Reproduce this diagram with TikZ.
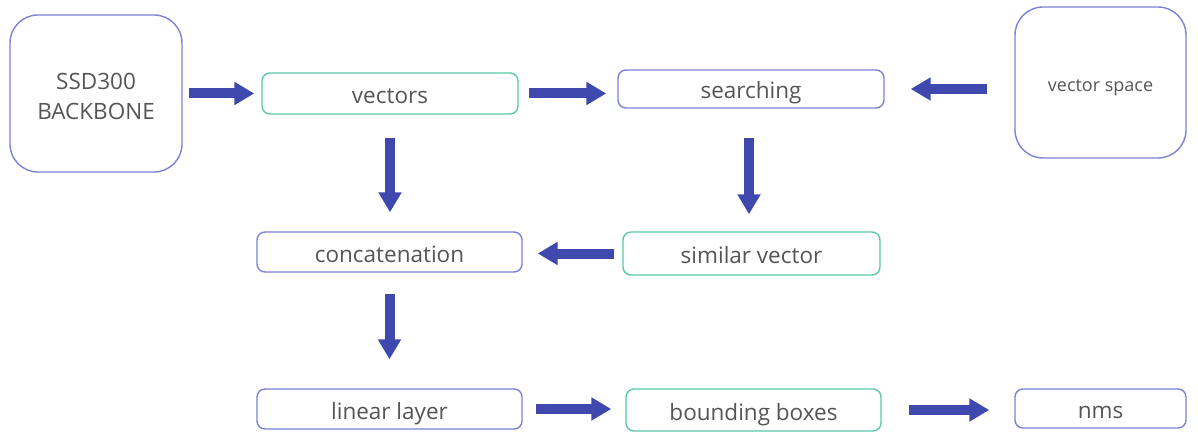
\documentclass[tikz,border=0pt]{standalone}
\usepackage{fontspec}
\setmainfont{Open Sans}
\usetikzlibrary{arrows.meta}
\definecolor{bordblue}{RGB}{124,130,214}
\definecolor{bordteal}{RGB}{92,200,170}
\definecolor{arrblue}{RGB}{63,72,172}
\definecolor{txtgray}{RGB}{85,85,85}
\tikzset{
  box/.style={draw=bordblue, line width=1.4pt, rounded corners=8pt, text=txtgray,
    font=\fontsize{22.5}{26}\selectfont, inner sep=0pt, text height=23pt, text depth=3pt},
  tealbox/.style={box, draw=bordteal},
  bigbox/.style={draw=bordblue, line width=1.4pt, text=txtgray, inner sep=0pt,
    rounded corners=28pt, align=center, font=\fontsize{22.5}{30}\selectfont},
  bar/.style={arrblue, line width=10pt, -{Triangle[length=20pt,width=22pt]}},
}
\begin{document}
\begin{tikzpicture}[x=1pt,y=-1pt]
\useasboundingbox[fill=white] (0,0) rectangle (1198,438);
\node[bigbox, minimum width=172pt, minimum height=157pt, text height=52pt, text depth=0pt] (ssd) at (96,93.5) {SSD300\\BACKBONE};
\node[bigbox, minimum width=171pt, minimum height=151pt, font=\fontsize{18}{21}\selectfont, text height=18pt, text depth=0.4pt] (vspace) at (1100.5,82.5) {vector space};
\node[tealbox, minimum width=256pt, minimum height=41pt] (vectors) at (390,93.5) {vectors};
\node[box, minimum width=266pt, minimum height=38pt] (searching) at (751,89) {searching};
\node[box, minimum width=265pt, minimum height=40pt] (concat) at (389.5,252) {concatenation};
\node[tealbox, minimum width=257pt, minimum height=43pt] (similar) at (751.5,253.5) {similar vector};
\node[box, minimum width=265pt, minimum height=40pt] (linear) at (389.5,409) {linear layer};
\node[tealbox, minimum width=255pt, minimum height=42pt] (bbox) at (753.5,410) {bounding boxes};
\node[box, minimum width=171pt, minimum height=39pt] (nms) at (1100.5,408.5) {nms};

\draw[bar, shorten <=6pt, shorten >=7pt] (ssd.east) -- (vectors.west);
\draw[bar, shorten <=10pt, shorten >=11pt] (vectors.east) -- (vectors.east -| searching.west);
\draw[bar, shorten <=27pt, shorten >=26pt] (vspace.west |- searching.east) -- (searching.east);
\draw[bar, shorten <=23pt, shorten >=19pt] (vectors.south) -- (vectors.south |- concat.north);
\draw[bar, shorten <=29pt, shorten >=17pt] ([xshift=-2pt]searching.south) -- ([xshift=-2pt]searching.south |- similar.north);
\draw[bar, shorten <=8pt, shorten >=15pt] (similar.west) -- (similar.west -| concat.east);
\draw[bar, shorten <=21pt, shorten >=29pt] (concat.south) -- (concat.south |- linear.north);
\draw[bar, shorten <=13pt, shorten >=14pt] (linear.east) -- (linear.east -| bbox.west);
\draw[bar, shorten <=27pt, shorten >=25pt] (bbox.east) -- (bbox.east -| nms.west);
\end{tikzpicture}
\end{document}
